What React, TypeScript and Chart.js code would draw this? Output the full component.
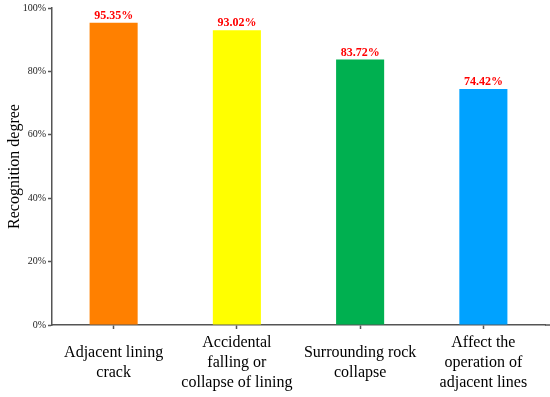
import React, { useEffect, useRef } from "react";
import { Chart, registerables } from "chart.js";

Chart.register(...registerables);

const categories: string[][] = [
  ["Adjacent lining", "crack"],
  ["Accidental", "falling or", "collapse of lining"],
  ["Surrounding rock", "collapse"],
  ["Affect the", "operation of", "adjacent lines"],
];
const values: number[] = [95.35, 93.02, 83.72, 74.42];
const barColors: string[] = ["#FF8000", "#FFFF00", "#00B050", "#00A2FF"];
const yTicks: number[] = [0, 20, 40, 60, 80, 100];

const FONT = "'Liberation Serif', 'Times New Roman', serif";
const AXIS = "#555555";

const valueLabels = {
  id: "valueLabels",
  afterDatasetsDraw(chart: any) {
    const ctx = chart.ctx;
    const meta = chart.getDatasetMeta(0);
    ctx.save();
    ctx.fillStyle = "#FF0000";
    ctx.font = `bold 12px ${FONT}`;
    ctx.textAlign = "center";
    ctx.textBaseline = "bottom";
    meta.data.forEach((el: any, i: number) => {
      ctx.fillText(values[i].toFixed(2) + "%", el.x, el.y - 1);
    });
    ctx.restore();
  },
};

const axisExtend = {
  id: "axisExtend",
  afterDraw(chart: any) {
    const ctx = chart.ctx;
    const a = chart.chartArea;
    ctx.save();
    ctx.strokeStyle = AXIS;
    ctx.lineWidth = 1.5;
    ctx.beginPath();
    ctx.moveTo(a.right, a.bottom);
    ctx.lineTo(chart.width, a.bottom);
    ctx.stroke();
    ctx.restore();
  },
};

export default function App() {
  const ref = useRef<HTMLCanvasElement>(null);
  useEffect(() => {
    if (!ref.current) return;
    const chart = new Chart(ref.current, {
      type: "bar",
      data: {
        labels: categories,
        datasets: [
          {
            data: values,
            backgroundColor: barColors,
            borderWidth: 0,
            barPercentage: 0.39,
            categoryPercentage: 1,
          },
        ],
      },
      options: {
        animation: false,
        responsive: false,
        maintainAspectRatio: false,
        layout: { padding: { top: 8, right: 5, left: 0, bottom: 0 } },
        plugins: { legend: { display: false }, tooltip: { enabled: false } },
        scales: {
          x: {
            grid: {
              display: true,
              drawOnChartArea: false,
              offset: false,
              tickLength: 4,
              tickColor: AXIS,
              tickWidth: 1.5,
            },
            border: { color: AXIS, width: 1.5 },
            ticks: {
              font: { family: FONT, size: 16, lineHeight: 1.25 },
              color: "#000000",
              padding: 14,
              maxRotation: 0,
              autoSkip: false,
              crossAlign: "center",
            },
            afterFit(scale: any) {
              scale.height = 72;
            },
          },
          y: {
            min: 0,
            max: 100,
            afterBuildTicks(scale: any) {
              scale.ticks = yTicks.map((v) => ({ value: v }));
            },
            grid: {
              display: true,
              drawOnChartArea: false,
              tickLength: 4,
              tickColor: AXIS,
              tickWidth: 1.5,
            },
            border: { color: AXIS, width: 1.5 },
            ticks: {
              font: { family: FONT, size: 10 },
              color: "#222222",
              padding: 2,
              callback: (v: any) => v + "%",
            },
            title: {
              display: true,
              text: "Recognition degree",
              font: { family: FONT, size: 16 },
              color: "#000000",
              padding: 5,
            },
            afterFit(scale: any) {
              scale.width = 52;
            },
          },
        },
      },
      plugins: [valueLabels, axisExtend],
    });
    return () => chart.destroy();
  }, []);
  return (
    <div style={{ position: "absolute", left: 0, top: 0, width: 550, height: 397, background: "#fff" }}>
      <canvas ref={ref} width={550} height={397} style={{ display: "block" }} />
    </div>
  );
}
